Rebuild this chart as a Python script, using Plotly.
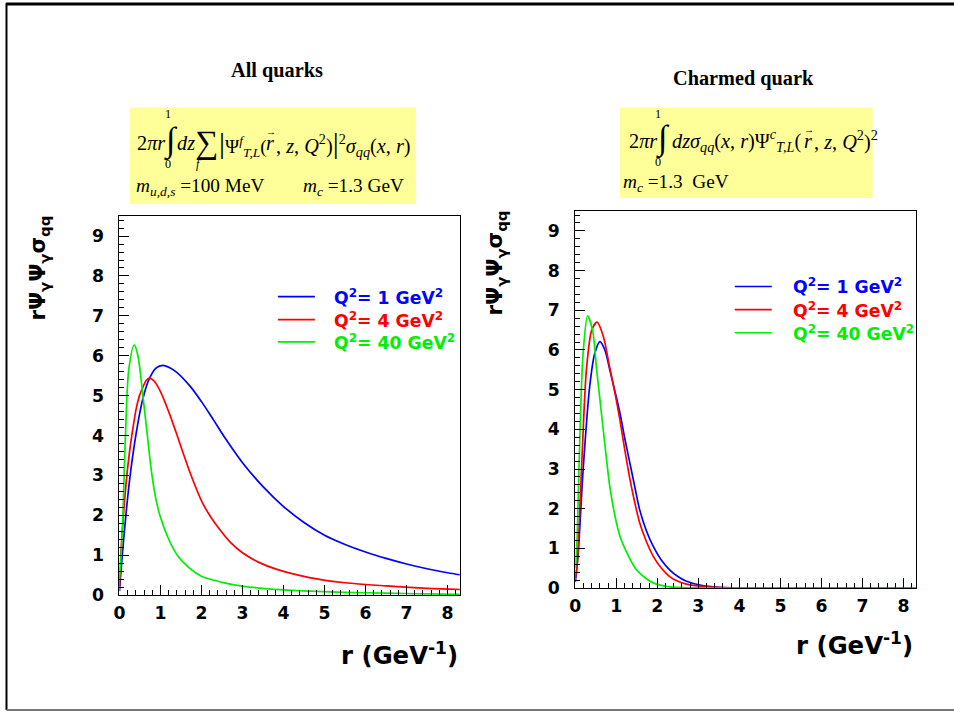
import plotly.graph_objects as go

# ---------------- data ----------------
# Left panel: all quarks
r_all_q1 = [0, 0.08, 0.24, 0.41, 0.57, 0.73, 0.89, 1.06, 1.35, 1.71, 2.0, 2.3, 2.6, 3.0, 3.5, 4.0,
            4.5, 5.0, 5.5, 6.0, 6.5, 7.0, 7.5, 8.0, 8.3]
v_all_q1 = [0.1, 1.14, 2.82, 4.07, 4.92, 5.43, 5.69, 5.76, 5.62, 5.25, 4.85, 4.38, 3.9, 3.32, 2.72, 2.22,
            1.82, 1.5, 1.27, 1.08, 0.92, 0.78, 0.66, 0.56, 0.51]

r_all_q4 = [0, 0.04, 0.163, 0.244, 0.325, 0.407, 0.488, 0.57, 0.65, 0.73, 0.85, 1.0, 1.2, 1.38, 1.55,
            1.71, 2.03, 2.25, 2.44, 2.7, 3.0, 3.4, 3.82, 4.63, 5.5, 6.5, 7.5, 8.3]
v_all_q4 = [0.2, 1.14, 2.82, 3.58, 4.16, 4.67, 5.0, 5.21, 5.38, 5.44, 5.36, 5.1, 4.6, 4.08, 3.57,
            3.1, 2.3, 1.92, 1.65, 1.33, 1.06, 0.82, 0.65, 0.44, 0.31, 0.23, 0.17, 0.14]

r_all_q40 = [0, 0.065, 0.146, 0.23, 0.36, 0.45, 0.56, 0.68, 0.78, 0.88, 1.0, 1.2, 1.41, 1.7, 2.0, 2.5,
             3.03, 4.0, 4.66, 5.5, 6.5, 7.5, 8.3]
v_all_q40 = [0.4, 1.48, 4.0, 5.68, 6.27, 6.0, 5.1, 4.0, 3.1, 2.45, 1.95, 1.4, 1.0, 0.68, 0.47, 0.32,
             0.22, 0.13, 0.1, 0.07, 0.05, 0.03, 0.02]

# Right panel: charmed quark
r_c_q1 = [0, 0.07, 0.19, 0.35, 0.47, 0.6, 0.72, 0.84, 0.96, 1.09, 1.2, 1.33, 1.45, 1.57, 1.73, 1.9, 2.1,
          2.3, 2.5, 2.71, 3.1, 3.5, 4.0, 5.0, 6.0, 7.0, 8.3]
v_c_q1 = [0.15, 0.88, 2.98, 5.08, 5.9, 6.21, 6.0, 5.5, 4.98, 4.4, 3.8, 3.15, 2.55, 1.97, 1.45, 1.05, 0.7,
          0.46, 0.29, 0.17, 0.06, 0.02, 0.005, 0, 0, 0, 0]

r_c_q4 = [0, 0.045, 0.15, 0.27, 0.4, 0.53, 0.68, 0.84, 0.96, 1.09, 1.2, 1.33, 1.45, 1.57, 1.73, 1.9, 2.1,
          2.3, 2.5, 2.71, 3.1, 3.6, 4.5, 5.5, 6.5, 7.5, 8.3]
v_c_q4 = [0.25, 0.6, 2.98, 5.5, 6.5, 6.7, 6.35, 5.55, 4.95, 4.22, 3.52, 2.75, 2.15, 1.64, 1.18, 0.8, 0.5,
          0.29, 0.17, 0.1, 0.04, 0.01, 0, 0, 0, 0, 0]

r_c_q40 = [0, 0.045, 0.11, 0.19, 0.3, 0.42, 0.52, 0.6, 0.68, 0.76, 0.84, 0.96, 1.09, 1.3, 1.49, 1.7, 1.9,
           2.3, 3.0, 4.0, 5.0, 6.0, 7.0, 8.3]
v_c_q40 = [0.5, 1.3, 3.82, 5.92, 6.86, 6.5, 5.5, 4.75, 3.99, 3.25, 2.56, 1.85, 1.3, 0.8, 0.46, 0.26, 0.13,
           0.03, 0.005, 0, 0, 0, 0, 0]

series_names = ["Q<sup>2</sup>= 1 GeV<sup>2</sup>", "Q<sup>2</sup>= 4 GeV<sup>2</sup>", "Q<sup>2</sup>= 40 GeV<sup>2</sup>"]
series_colors = ["#0000ff", "#ff0000", "#00ee00"]
x_ticks = [0, 1, 2, 3, 4, 5, 6, 7, 8]
y_ticks = [0, 1, 2, 3, 4, 5, 6, 7, 8, 9]

# ---------------- figure ----------------
W, H = 954, 721
FS = 1.015  # small font compensation
fig = go.Figure()

left = [(r_all_q1, v_all_q1), (r_all_q4, v_all_q4), (r_all_q40, v_all_q40)]
right = [(r_c_q1, v_c_q1), (r_c_q4, v_c_q4), (r_c_q40, v_c_q40)]

for i, (xs, ys) in enumerate(left):
    fig.add_trace(go.Scatter(
        x=xs, y=ys, mode="lines", xaxis="x", yaxis="y", showlegend=False,
        line=dict(color=series_colors[i], width=1.7, shape="spline", smoothing=0.9),
        name=series_names[i], hoverinfo="skip"))
for i, (xs, ys) in enumerate(right):
    fig.add_trace(go.Scatter(
        x=xs, y=ys, mode="lines", xaxis="x2", yaxis="y2", showlegend=False,
        line=dict(color=series_colors[i], width=1.7, shape="spline", smoothing=0.8),
        name=series_names[i], hoverinfo="skip"))


def px_x(p):
    X = (p - 6.0) / 0.994
    X = min(max(X, 0.5), W - 0.5)
    return X / W


def px_y(p):
    Y = p / 0.981
    Y = min(max(Y, 0.5), H - 1)
    return 1 - Y / H


def fs(s):
    return s * FS


tickfont = dict(family="DejaVu Sans", size=fs(17), color="black", weight="bold")


def xaxis(domain, anchor):
    return dict(domain=domain, anchor=anchor, range=[0, 8.3], tickvals=x_ticks,
                ticks="inside", ticklen=10, tickwidth=1, tickcolor="black",
                minor=dict(ticks="inside", ticklen=5, dtick=0.2, tickcolor="black"),
                showline=True, linecolor="black", linewidth=1, mirror=True,
                showgrid=False, zeroline=False, tickfont=tickfont, ticklabelstandoff=2)


def yaxis(domain, anchor):
    return dict(domain=domain, anchor=anchor, range=[0, 9.5], tickvals=y_ticks,
                ticks="inside", ticklen=10, tickwidth=1, tickcolor="black",
                minor=dict(ticks="inside", ticklen=5, dtick=0.2, tickcolor="black"),
                showline=True, linecolor="black", linewidth=1, mirror=True,
                showgrid=False, zeroline=False, tickfont=tickfont, ticklabelstandoff=11)


fig.update_layout(
    width=W, height=H, margin=dict(l=0, r=0, t=0, b=0),
    paper_bgcolor="white", plot_bgcolor="white",
    xaxis=xaxis([px_x(119.5), px_x(460)], "y"),
    yaxis=yaxis([px_y(592), px_y(215)], "x"),
    xaxis2=xaxis([px_x(575.5), px_x(916)], "y2"),
    yaxis2=yaxis([px_y(585), px_y(210)], "x2"),
    showlegend=False,
)

shapes = []
# page border
shapes.append(dict(type="line", xref="paper", yref="paper", x0=0, x1=1, y0=px_y(4), y1=px_y(4),
                   line=dict(color="black", width=3)))
shapes.append(dict(type="line", xref="paper", yref="paper", x0=px_x(5), x1=px_x(5), y0=px_y(3), y1=px_y(718),
                   line=dict(color="black", width=2)))
shapes.append(dict(type="line", xref="paper", yref="paper", x0=px_x(4), x1=1, y0=px_y(718), y1=px_y(718),
                   line=dict(color="#777777", width=2)))
# formula boxes
shapes.append(dict(type="rect", xref="paper", yref="paper", x0=px_x(130), x1=px_x(416), y0=px_y(203), y1=px_y(107),
                   fillcolor="#ffff99", line=dict(width=0), layer="below"))
shapes.append(dict(type="rect", xref="paper", yref="paper", x0=px_x(620), x1=px_x(873), y0=px_y(197), y1=px_y(107),
                   fillcolor="#ffff99", line=dict(width=0), layer="below"))

serif = "Liberation Serif"
sans = "DejaVu Sans"
ann = []


def A(text, x, y, size, family=serif, xanchor="center", yanchor="middle", color="black", angle=0, weight="normal"):
    ann.append(dict(text=text, x=px_x(x), y=px_y(y), xref="paper", yref="paper", showarrow=False,
                    xanchor=xanchor, yanchor=yanchor, textangle=angle, borderpad=0,
                    font=dict(family=family, size=fs(size), color=color, weight=weight)))


# manual legends (line sample + coloured label)
legend_rows = [(278, 315, 333, [295, 318, 340]), (735, 772, 792, [285, 308, 331])]
for (lx0, lx1, tx, rows) in legend_rows:
    for i, yy in enumerate(rows):
        shapes.append(dict(type="line", xref="paper", yref="paper", x0=px_x(lx0), x1=px_x(lx1),
                           y0=px_y(yy), y1=px_y(yy), line=dict(color=series_colors[i], width=1.7)))
        A(series_names[i], tx, yy, 17, family=sans, xanchor="left", color=series_colors[i], weight="bold")

fig.update_layout(shapes=shapes)

# titles
A("<b>All quarks</b>", 277, 70, 20)
A("<b>Charmed quark</b>", 744, 78, 20)

# left formula (pieces)
yl = 142
A("2<i>πr</i>", 166, yl, 20, xanchor="right")
A("∫", 171, 140, 34)
A("1", 168, 113, 12)
A("0", 168, 163, 12)
A("<i>dz</i>", 176, yl, 20, xanchor="left")
A("∑", 207, 141, 32)
A("<i>f</i>", 199, 163, 12)
A('<span style="font-size:30px">|</span>Ψ<sup><i>f</i></sup><sub><i>T,L</i></sub>(', 218, yl, 19, xanchor="left")
A("<i>r</i>", 270, yl, 20)
A("→", 271, 131, 10)
A(', <i>z</i>, <i>Q</i><sup>2</sup>)<span style="font-size:30px">|</span><sup>2</sup>'
  '<i>σ</i><sub><i>qq</i></sub>(<i>x</i>, <i>r</i>)', 275, yl, 20, xanchor="left")
A("<i>m</i><sub><i>u,d,s</i></sub> =100 MeV", 135, 186, 19, xanchor="left")
A("<i>m</i><sub><i>c</i></sub> =1.3 GeV", 302, 186, 19, xanchor="left")

# right formula (pieces)
yr = 140
A("2<i>πr</i>", 658, yr, 20, xanchor="right")
A("∫", 663, 138, 34)
A("1", 658, 113, 12)
A("0", 658, 161, 12)
A("<i>dzσ</i><sub><i>qq</i></sub>(<i>x</i>, <i>r</i>)Ψ<sup><i>c</i></sup><sub><i>T,L</i></sub>(", 802, yr, 20,
  xanchor="right")
A("<i>r</i>", 808, yr, 20)
A("→", 809, 129, 10)
A(", <i>z</i>, <i>Q</i><sup>2</sup>)<sup>2</sup>", 813, yr, 20, xanchor="left")
A("<i>m</i><sub><i>c</i></sub> =1.3  GeV", 622, 182, 19, xanchor="left")

# axis titles
ytitle = "rΨ<sub>γ</sub>Ψ<sub>γ</sub>σ<sub>qq</sub>"
A(ytitle, 39, 213, 21, family=sans, yanchor="top", angle=-90, weight="bold")
A(ytitle, 496, 208, 21, family=sans, yanchor="top", angle=-90, weight="bold")
xtitle = "r (GeV<sup>-1</sup>)"
A(xtitle, 459, 651, 24, family=sans, xanchor="right", weight="bold")
A(xtitle, 914, 641, 24, family=sans, xanchor="right", weight="bold")

fig.update_layout(annotations=ann)
fig.write_html("out.html")
